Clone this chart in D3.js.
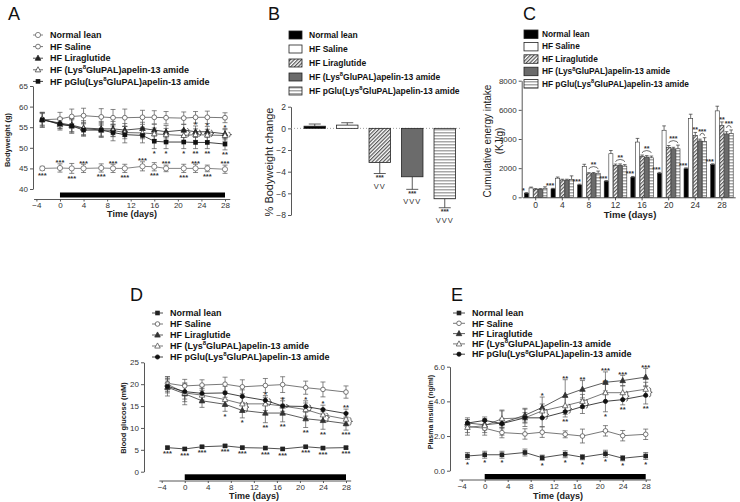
<!DOCTYPE html>
<html><head><meta charset="utf-8">
<script src="https://cdn.jsdelivr.net/npm/d3@7"></script>
<style>body{margin:0;background:#fff}svg{display:block;font-family:"Liberation Sans",Arial,sans-serif}</style>
</head><body><svg id="chart" width="740" height="502"></svg>
<script>
// ================= DATA =================
const seriesNames=["Normal lean","HF Saline","HF Liraglutide","HF (Lys8GluPAL)apelin-13 amide","HF pGlu(Lys8GluPAL)apelin-13 amide"];
const dayTicks=[-4,0,4,8,12,16,20,24,28];

// Panel A – bodyweight (g)
const daysA=[-3,0,2,4,7,9,11,14,16,18,21,23,25,28];
const bwNormal=[45.0,45.1,45.0,45.0,45.1,45.0,45.0,45.5,45.4,45.0,45.0,45.0,45.0,44.8];
const bwNormalErr=[0.5,1.0,1.2,1.0,1.0,1.0,1.0,1.1,1.0,0.8,1.0,1.0,0.8,1.0];
const bwSaline=[56.8,57.0,57.6,57.8,57.5,57.3,57.3,57.4,57.4,57.3,57.2,57.4,57.4,57.3];
const bwSalineErr=[1.8,1.6,1.8,1.8,2.0,2.0,2.1,1.7,1.6,1.5,1.5,1.4,1.5,1.2];
const bwLira=[56.8,56.0,55.5,54.8,54.6,54.6,54.3,54.7,54.3,53.9,54.3,53.9,53.9,53.4];
const bwLiraErr=[1.5,1.3,1.6,1.8,1.8,1.8,1.6,1.5,1.4,1.5,1.4,1.4,1.3,1.3];
const bwLys=[57.0,55.6,55.3,54.7,54.3,54.2,53.7,53.6,53.4,53.2,53.0,53.2,53.1,53.0];
const bwLysErr=[1.5,1.3,1.5,1.5,1.5,1.5,1.5,1.4,1.4,1.5,1.4,1.4,1.4,1.4];
const bwPglu=[56.8,55.8,55.3,54.3,54.3,53.7,53.2,53.0,51.6,51.4,51.4,51.3,51.3,50.9];
const bwPgluErr=[1.8,1.2,1.8,1.5,1.8,2.0,2.0,1.8,1.8,1.6,1.6,1.5,1.5,1.4];
const yTicksA=[40,45,50,55,60,65];
const starsA=[[0,-3,"***","b"],[0,0,"***","a"],[0,2,"***","b"],[0,4,"***","a"],[0,7,"***","b"],[0,9,"***","a"],[0,11,"***","b"],[0,14,"***","a"],[0,16,"***","b"],[0,18,"***","a"],[0,21,"***","b"],[0,23,"***","a"],[0,25,"***","b"],[0,28,"***","a"],
 [4,16,"*","b"],[4,18,"*","b"],[4,21,"*","b"],[4,23,"**","b"],[4,25,"**","b"],[4,28,"**","b"],
 [2,23,"*","a"],[2,25,"*","a"],[2,28,"*","a"]];
const bracesA=[[21,3,2],[23,3,2],[25,3,2],[28,3,2]];

// Panel B – % bodyweight change
const bwChange=[0.2,0.3,-3.15,-4.47,-6.5];
const bwChangeErr=[0.2,0.22,1.02,1.16,0.83];
const bStars=["","","***","***","***"];
const bSig=["","","VV","VVV","VVV"];
const yTicksB=[-8,-6,-4,-2,0,2];

// Panel C – cumulative energy intake (KJ/g)
const daysC=[0,4,8,12,16,20,24,28];
const energyNormal=[280,575,850,1100,1380,1650,1960,2240];
const energyNormalErr=[40,40,50,50,50,60,60,60];
const energySaline=[640,1310,2115,2990,3790,4600,5400,5930];
const energySalineErr=[60,80,150,220,250,300,300,320];
const energyLira=[550,1180,1610,2180,2800,3430,4250,4920];
const energyLiraErr=[50,60,80,100,100,120,200,250];
const energyLys=[550,1180,1620,2200,2760,3330,3870,4350];
const energyLysErr=[50,60,80,90,100,100,120,150];
const energyPglu=[620,1220,1650,2140,2710,3330,3840,4370];
const energyPgluErr=[100,250,150,100,120,250,250,250];
const yTicksC=[0,2000,4000,6000,8000];
const starsNormalC=["*","***","***","***","***","***","***","***"];
const bracketsC=[[8,2,4,"**"],[12,2,4,"**"],[16,2,4,"**"],[20,2,4,"***"],[24,3,4,"***"],[28,3,4,"***"]];
const liraStarsC=[[24,"**"],[28,"**"]];

// Panel D – blood glucose (mM)
const daysDE=[-3,0,3,7,10,14,17,21,24,28];
const glucNormal=[5.5,5.2,5.7,5.9,5.5,5.4,5.2,5.7,5.4,5.5];
const glucNormalErr=[0.3,0.3,0.3,0.3,0.3,0.3,0.3,0.3,0.3,0.3];
const glucSaline=[20.2,19.6,19.8,20.0,19.4,19.7,19.9,19.2,18.8,18.2];
const glucSalineErr=[1.5,1.5,1.2,1.6,1.6,1.6,1.8,1.5,1.7,1.4];
const glucLira=[19.3,17.8,16.2,15.4,14.0,13.4,13.4,12.1,11.7,11.0];
const glucLiraErr=[2.0,2.5,1.5,1.6,1.7,2.2,2.0,2.0,2.0,1.5];
const glucLys=[20.0,18.0,17.5,16.5,15.5,15.5,15.0,14.2,13.0,12.0];
const glucLysErr=[1.7,2.0,1.5,1.5,1.5,1.5,1.8,1.5,1.3,1.5];
const glucPglu=[19.5,18.3,17.9,18.0,17.2,16.3,15.0,14.9,14.2,13.3];
const glucPgluErr=[1.5,1.7,1.5,1.5,1.5,1.1,1.2,1.3,1.0,1.0];
const yTicksD=[0,5,10,15,20,25];
const starsD=[[0,-3,"***","b"],[0,0,"***","b"],[0,3,"***","b"],[0,7,"***","b"],[0,10,"***","b"],[0,14,"***","b"],[0,17,"***","b"],[0,21,"***","b"],[0,24,"***","b"],[0,28,"***","b"],
 [4,14,"*","a"],[4,17,"*","a"],[4,21,"*","a"],[4,24,"*","a"],[4,28,"**","a"],
 [2,7,"*","b"],[2,10,"*","b"],[2,14,"**","b"],[2,17,"**","b"],[2,21,"**","b"],[2,24,"**","b"],[2,28,"***","b"]];
const bracesD=[[10,3,2],[14,4,3],[17,4,3],[21,4,3],[24,3,2],[28,3,2]];

// Panel E – plasma insulin (ng/ml)
const insNormal=[0.85,0.92,0.92,1.05,0.75,0.95,0.78,0.98,0.72,0.85];
const insNormalErr=[0.2,0.2,0.2,0.2,0.15,0.2,0.15,0.2,0.15,0.2];
const insSaline=[2.55,2.45,2.2,2.12,2.22,2.1,2.0,2.3,2.02,2.1];
const insSalineErr=[0.5,0.4,0.3,0.3,0.3,0.2,0.4,0.3,0.3,0.3];
const insLira=[2.75,2.65,2.75,3.2,3.65,4.35,4.7,5.1,5.2,5.4];
const insLiraErr=[0.2,0.3,0.7,0.4,0.6,0.9,0.5,0.6,0.3,0.5];
const insLys=[2.5,2.6,3.0,3.05,3.45,3.75,4.0,4.5,4.5,4.7];
const insLysErr=[0.3,0.4,0.5,0.5,0.4,0.5,0.4,0.5,0.4,0.4];
const insPglu=[2.75,2.9,2.72,3.05,3.05,3.4,3.7,4.0,4.1,4.35];
const insPgluErr=[0.2,0.2,0.3,0.3,0.5,0.3,0.4,0.6,0.3,0.5];
const yTicksE=[0,2,4,6];
const starsE=[[0,-3,"*","b"],[0,0,"*","b"],[0,3,"*","b"],[0,10,"*","b"],[0,14,"*","b"],[0,17,"*","b"],[0,21,"*","b"],[0,24,"*","b"],[0,28,"*","b"],
 [2,10,"*","a"],[2,14,"**","a"],[2,17,"**","a"],[2,21,"***","a"],[2,24,"***","a"],[2,28,"***","a"],
 [4,14,"**","b"],[4,21,"*","b"],[4,24,"**","b"],[4,28,"**","b"],[3,21,"**","a"]];
const bracesE=[[10,3,4],[14,3,4],[17,3,4],[24,3,4],[28,3,4]];

// ================= DRAWING =================
const FONT="Liberation Sans, Arial, sans-serif";
const svg=d3.select("#chart");
const defs=svg.append("defs");
const ph=defs.append("pattern").attr("id","hatch").attr("patternUnits","userSpaceOnUse").attr("width",2.6).attr("height",2.6).attr("patternTransform","rotate(45)");
ph.append("rect").attr("width",2.6).attr("height",2.6).attr("fill","#fff");
ph.append("rect").attr("width",1.2).attr("height",2.6).attr("fill","#555");
const ps=defs.append("pattern").attr("id","hstripe").attr("patternUnits","userSpaceOnUse").attr("width",4).attr("height",3);
ps.append("rect").attr("width",4).attr("height",3).attr("fill","#fff");
ps.append("rect").attr("width",4).attr("height",1.5).attr("fill","#a8a8a8");
const barFills=["#000","#fff","url(#hatch)","#6b6b6b","url(#hstripe)"];

function styleAxis(a,fs){
  a.attr("font-family",FONT);
  a.selectAll("path,line").attr("stroke","#444").attr("stroke-width",0.9);
  a.selectAll("text").attr("fill","#333").attr("font-size",fs||8);
}
function label(t,name,fs){
  const parts=name.split("Lys8");
  if(parts.length===1){t.text(name);return;}
  t.append("tspan").text(parts[0]+"Lys");
  t.append("tspan").attr("font-size",fs*0.68).attr("dy",-fs*0.42).text("8");
  t.append("tspan").attr("dy",fs*0.42).text(parts[1]);
}
function star(g,x,yc,txt,fs){
  fs=fs||7.5;
  g.append("text").attr("x",x).attr("y",yc+fs*0.57).attr("text-anchor","middle").attr("font-size",fs)
   .attr("font-weight","bold").attr("fill","#333").attr("font-family",FONT).text(txt);
}
function panelLetter(txt,x,y){
  svg.append("text").attr("x",x).attr("y",y).attr("font-size",18).attr("font-family",FONT).attr("fill","#111").text(txt);
}
function yTitle(txt,x,yc,fs,bold){
  svg.append("text").attr("transform",`translate(${x},${yc}) rotate(-90)`).attr("text-anchor","middle")
   .attr("font-size",fs).attr("font-weight",bold?"bold":"normal").attr("fill","#222").attr("font-family",FONT).text(txt);
}
function xTitle(txt,x,y,fs){
  svg.append("text").attr("x",x).attr("y",y).attr("text-anchor","middle").attr("font-size",fs)
   .attr("font-weight","bold").attr("fill","#222").attr("font-family",FONT).text(txt);
}
function marker(g,type,cx,cy,col,r){
  r=r||2.3;
  if(type==="circleOpen"||type==="circleFilled"){
    g.append("circle").attr("cx",cx).attr("cy",cy).attr("r",r).attr("fill",type==="circleOpen"?"#fff":col).attr("stroke",col).attr("stroke-width",0.8);
  } else if(type==="square"){
    g.append("rect").attr("x",cx-r).attr("y",cy-r).attr("width",2*r).attr("height",2*r).attr("fill",col);
  } else {
    const h=r*1.2;
    g.append("path").attr("d",`M${cx},${cy-h-0.3}L${cx+h},${cy+h*0.75}L${cx-h},${cy+h*0.75}Z`)
     .attr("fill",type==="tri"?col:"#fff").attr("stroke",col).attr("stroke-width",0.8);
  }
}
function brace(g,x0,y1,y2){
  const top=Math.min(y1,y2)-1.5, bot=Math.max(y1,y2)+1.5, m=(top+bot)/2, w=3;
  g.append("path").attr("d",`M${x0},${top}C${x0+w},${top} ${x0},${m} ${x0+w},${m}C${x0},${m} ${x0+w},${bot} ${x0},${bot}`)
   .attr("fill","none").attr("stroke","#333").attr("stroke-width",0.8);
}

function linePanel(p){
  const g=svg.append("g");
  const x=d3.scaleLinear().domain([-4,28]).range(p.xr);
  const y=d3.scaleLinear().domain(p.yd).range(p.yr);
  const ya=g.append("g").attr("transform",`translate(${p.yAxisX},0)`)
    .call(d3.axisLeft(y).tickValues(p.yTicks).tickSize(3).tickPadding(2).tickSizeOuter(0));
  styleAxis(ya);
  const xa=g.append("g").attr("transform",`translate(0,${p.xAxisY})`)
    .call(d3.axisBottom(x).tickValues(dayTicks).tickSize(2).tickPadding(1).tickSizeOuter(0));
  xa.select(".domain").attr("d",`M${x(-4.4)},0H${x(28.9)}`);
  styleAxis(xa);
  g.append("rect").attr("x",x(0)).attr("width",x(28)-x(0)).attr("y",p.barY).attr("height",p.barH).attr("fill","#000");
  const data=p.series.map(s=>s.t.map((t,i)=>({t,v:s.v[i],e:s.e[i]})));
  p.series.forEach((s,si)=>{
    data[si].forEach(d=>{
      const x0=x(d.t);
      g.append("path").attr("d",`M${x0},${y(d.v-d.e)}V${y(d.v+d.e)}M${x0-2.5},${y(d.v+d.e)}H${x0+2.5}M${x0-2.5},${y(d.v-d.e)}H${x0+2.5}`)
       .attr("stroke",s.ecol||"#555").attr("stroke-width",0.7).attr("fill","none");
    });
  });
  p.series.forEach((s,si)=>{
    g.append("path").datum(data[si]).attr("d",d3.line().x(d=>x(d.t)).y(d=>y(d.v)))
     .attr("fill","none").attr("stroke",s.col).attr("stroke-width",0.8);
  });
  p.series.forEach((s,si)=>{
    data[si].forEach(d=>marker(g,s.m,x(d.t),y(d.v),s.col,s.r));
  });
  p.stars.forEach(([si,t,txt,pos])=>{
    const d=data[si][p.series[si].t.indexOf(t)];
    const yc=pos==="a"?y(d.v+d.e)-3:y(d.v-d.e)+3;
    star(g,x(d.t),yc,txt);
  });
  p.braces.forEach(([t,sa,sb])=>{
    const i=p.series[sa].t.indexOf(t);
    brace(g,x(t)+3.5,y(p.series[sa].v[i]),y(p.series[sb].v[i]));
  });
  p.series.forEach((s,i)=>{
    const yy=p.ly0+i*p.ldy;
    g.append("line").attr("x1",p.lx0).attr("x2",p.lx1).attr("y1",yy).attr("y2",yy).attr("stroke",s.col).attr("stroke-width",0.8);
    marker(g,s.m,(p.lx0+p.lx1)/2,yy,s.col,s.r);
    const t=g.append("text").attr("x",p.tx).attr("y",yy+p.lfs*0.36).attr("font-size",p.lfs).attr("font-weight","bold")
      .attr("fill","#111").attr("font-family",FONT);
    label(t,seriesNames[i],p.lfs);
  });
}

// ---------- Panel A ----------
panelLetter("A",8,20);
linePanel({xr:[36.4,225],yd:[40,65],yr:[189,86],yAxisX:33,xAxisY:199.5,barY:192.5,barH:5,yTicks:yTicksA,
  series:[
    {t:daysA,v:bwNormal,e:bwNormalErr,m:"circleOpen",col:"#666",r:2.6},
    {t:daysA,v:bwSaline,e:bwSalineErr,m:"circleOpen",col:"#555",r:2.4},
    {t:daysA,v:bwLira,e:bwLiraErr,m:"tri",col:"#222"},
    {t:daysA,v:bwLys,e:bwLysErr,m:"triOpen",col:"#444"},
    {t:daysA,v:bwPglu,e:bwPgluErr,m:"square",col:"#111"}],
  stars:starsA,braces:bracesA,ly0:35,ldy:11.6,lx0:33,lx1:43,tx:50,lfs:9});
yTitle("Bodyweight (g)",10,140,7.5,true);
xTitle("Time (days)",132,217,9);

// ---------- Panel B ----------
(function(){
  panelLetter("B",268,20);
  const g=svg.append("g");
  const y=d3.scaleLinear().domain([-8,2]).range([215,106.7]);
  const x=d3.scaleBand().domain(seriesNames).range([298.5,461]).paddingInner(0.34).paddingOuter(0.17);
  const ya=g.append("g").attr("transform","translate(291,0)")
    .call(d3.axisLeft(y).tickValues(yTicksB).tickSize(3).tickPadding(2).tickSizeOuter(0));
  styleAxis(ya,8.5);
  g.append("line").attr("x1",291).attr("x2",462).attr("y1",y(0)).attr("y2",y(0)).attr("stroke","#888").attr("stroke-width",0.8).attr("stroke-dasharray","1,2");
  seriesNames.forEach((n,i)=>{
    const v=bwChange[i],e=bwChangeErr[i],x0=x(n),w=x.bandwidth(),cx=x0+w/2;
    const yEnd=v>=0?y(v+e):y(v-e);
    g.append("path").attr("d",`M${cx},${y(v)}V${yEnd}M${cx-6},${yEnd}H${cx+6}`).attr("stroke","#333").attr("stroke-width",0.8);
    g.append("rect").attr("x",x0).attr("width",w).attr("y",y(Math.max(0,v))).attr("height",Math.abs(y(v)-y(0)))
      .attr("fill",barFills[i]).attr("stroke","#222").attr("stroke-width",0.8);
    if(bStars[i]){
      star(g,cx,yEnd+2.6,bStars[i],7);
      g.append("text").attr("x",cx).attr("y",yEnd+15).attr("text-anchor","middle").attr("font-size",7.5)
       .attr("letter-spacing",1).attr("fill","#333").attr("font-family",FONT).text(bSig[i]);
    }
  });
  seriesNames.forEach((n,i)=>{
    const yy=35+i*14;
    g.append("rect").attr("x",289).attr("y",yy-4).attr("width",13).attr("height",8).attr("fill",barFills[i]).attr("stroke","#222").attr("stroke-width",0.8);
    const t=g.append("text").attr("x",309).attr("y",yy+3).attr("font-size",8.5).attr("font-weight","bold").attr("fill","#111").attr("font-family",FONT);
    label(t,n,8.5);
  });
  yTitle("% Bodyweight change",273,162,11,false);
})();

// ---------- Panel C ----------
(function(){
  panelLetter("C",523,20);
  const g=svg.append("g");
  const y=d3.scaleLinear().domain([0,8000]).range([197.3,80.7]);
  const x=d3.scaleBand().domain(daysC).range([522.4,735.2]).paddingInner(0.15).paddingOuter(0.075);
  const xi=d3.scaleBand().domain(seriesNames).range([0,x.bandwidth()]).paddingInner(0.12);
  const ya=g.append("g").attr("transform","translate(521.7,0)")
    .call(d3.axisLeft(y).tickValues(yTicksC).tickFormat(d3.format("d")).tickSize(3).tickPadding(2).tickSizeOuter(0));
  styleAxis(ya,8);
  const xa=g.append("g").attr("transform",`translate(0,${y(0)})`)
    .call(d3.axisBottom(x).tickSize(3).tickPadding(2).tickSizeOuter(0));
  styleAxis(xa,8.5);
  const vals=[energyNormal,energySaline,energyLira,energyLys,energyPglu];
  const errs=[energyNormalErr,energySalineErr,energyLiraErr,energyLysErr,energyPgluErr];
  daysC.forEach((d,j)=>{
    seriesNames.forEach((n,i)=>{
      const v=vals[i][j],e=errs[i][j],x0=x(d)+xi(n),w=xi.bandwidth(),cx=x0+w/2;
      g.append("path").attr("d",`M${cx},${y(v)}V${y(v+e)}M${cx-1.8},${y(v+e)}H${cx+1.8}`).attr("stroke","#333").attr("stroke-width",0.7);
      g.append("rect").attr("x",x0).attr("width",w).attr("y",y(v)).attr("height",y(0)-y(v))
        .attr("fill",barFills[i]).attr("stroke","#333").attr("stroke-width",0.6);
    });
    const cx0=x(d)+xi(seriesNames[0])+xi.bandwidth()/2;
    star(g,cx0-3,y(energyNormal[j]+energyNormalErr[j])-4,starsNormalC[j],7);
  });
  bracketsC.forEach(([d,a,b,txt])=>{
    const j=daysC.indexOf(d);
    const xa_=x(d)+xi(seriesNames[a])+xi.bandwidth()/2, xb_=x(d)+xi(seriesNames[b])+xi.bandwidth()/2;
    let top=-1e9;
    for(let i=a;i<=b;i++) top=Math.max(top,vals[i][j]+errs[i][j]);
    const yb=y(top)-2;
    g.append("path").attr("d",`M${xa_},${yb}Q${xa_},${yb-2} ${(xa_+xb_)/2},${yb-2.5}Q${xb_},${yb-2} ${xb_},${yb}`)
      .attr("fill","none").attr("stroke","#333").attr("stroke-width",0.7);
    star(g,(xa_+xb_)/2,yb-6,txt,7);
  });
  liraStarsC.forEach(([d,txt])=>{
    const j=daysC.indexOf(d);
    const cx=x(d)+xi(seriesNames[2])+xi.bandwidth()/2;
    star(g,cx,y(energyLira[j]+energyLiraErr[j])-4,txt,7);
  });
  seriesNames.forEach((n,i)=>{
    const yy=34+i*12.4;
    g.append("rect").attr("x",524).attr("y",yy-4).attr("width",14).attr("height",8.5).attr("fill",barFills[i]).attr("stroke","#222").attr("stroke-width",0.8);
    const t=g.append("text").attr("x",542).attr("y",yy+3).attr("font-size",8.3).attr("font-weight","bold").attr("fill","#111").attr("font-family",FONT);
    label(t,n,8.3);
  });
  yTitle("Cumulative energy intake",491,141,10,false);
  yTitle("(KJ/g)",503,141,10,false);
  xTitle("Time (days)",630,218,9.5);
})();

// ---------- Panel D ----------
panelLetter("D",130,301);
linePanel({xr:[161.7,346],yd:[0,25],yr:[471.7,362.3],yAxisX:144,xAxisY:481,barY:474.3,barH:5.7,yTicks:yTicksD,
  series:[
    {t:daysDE,v:glucNormal,e:glucNormalErr,m:"square",col:"#222"},
    {t:daysDE,v:glucSaline,e:glucSalineErr,m:"circleOpen",col:"#555"},
    {t:daysDE,v:glucLira,e:glucLiraErr,m:"tri",col:"#333"},
    {t:daysDE,v:glucLys,e:glucLysErr,m:"triOpen",col:"#555"},
    {t:daysDE,v:glucPglu,e:glucPgluErr,m:"circleFilled",col:"#111",r:2.1}],
  stars:starsD,braces:bracesD,ly0:313,ldy:11,lx0:152,lx1:163,tx:170,lfs:9});
yTitle("Blood glucose (mM)",126,418,7.5,true);
xTitle("Time (days)",254,499,9);

// ---------- Panel E ----------
panelLetter("E",451,301);
linePanel({xr:[461.7,645.7],yd:[0,6],yr:[470.7,366.7],yAxisX:450,xAxisY:480,barY:474,barH:5.3,yTicks:yTicksE,
  series:[
    {t:daysDE,v:insNormal,e:insNormalErr,m:"square",col:"#222"},
    {t:daysDE,v:insSaline,e:insSalineErr,m:"circleOpen",col:"#555"},
    {t:daysDE,v:insLira,e:insLiraErr,m:"tri",col:"#333"},
    {t:daysDE,v:insLys,e:insLysErr,m:"triOpen",col:"#555"},
    {t:daysDE,v:insPglu,e:insPgluErr,m:"circleFilled",col:"#111",r:2.1}],
  stars:starsE,braces:bracesE,ly0:313,ldy:10.3,lx0:453,lx1:465,tx:472,lfs:9});
yTitle("Plasma insulin (ng/ml)",433,412,7,true);
xTitle("Time (days)",558,499,9);
</script></body></html>
